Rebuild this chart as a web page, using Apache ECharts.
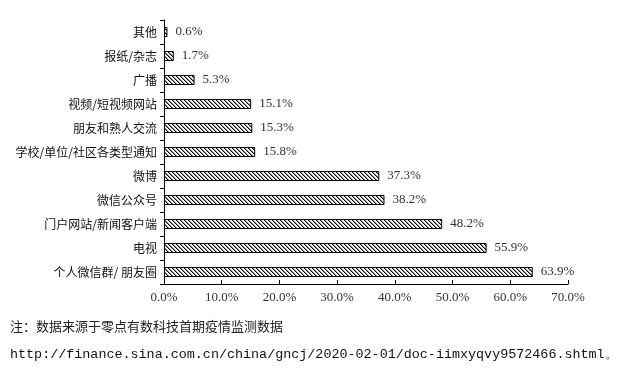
<!DOCTYPE html>
<html><head><meta charset="utf-8">
<script src="https://cdn.jsdelivr.net/npm/echarts@6/dist/echarts.min.js"></script>
<style>html,body{margin:0;padding:0;background:#fff;}#c{width:622px;height:371px;}</style>
</head><body><div id="c"></div>
<script>
var categories = ['其他','报纸/杂志','广播','视频/短视频网站','朋友和熟人交流','学校/单位/社区各类型通知','微博','微信公众号','门户网站/新闻客户端','电视','个人微信群/ 朋友圈'];
var values = [0.6, 1.7, 5.3, 15.1, 15.3, 15.8, 37.3, 38.2, 48.2, 55.9, 63.9];
var note = '注：数据来源于零点有数科技首期疫情监测数据';
var url = 'http://finance.sina.com.cn/china/gncj/2020-02-01/doc-iimxyqvy9572466.shtml。';

var tile = document.createElement('canvas');
tile.width = 4; tile.height = 4;
var tc = tile.getContext('2d');
tc.fillStyle = '#fff'; tc.fillRect(0,0,4,4);
for (var i = 0; i < 4; i++) {
  tc.fillStyle = '#000'; tc.fillRect(i, i, 1, 1);
  tc.fillStyle = '#888'; tc.fillRect((i + 1) % 4, i, 1, 1);
}

var chart = echarts.init(document.getElementById('c'));
chart.setOption({
  animation: false,
  grid: {left: 164, right: 54, top: 20, bottom: 87},
  xAxis: {
    type: 'value', min: 0, max: 70, interval: 10,
    axisLine: {show: true, lineStyle: {color: '#000', width: 1}},
    axisTick: {show: true, inside: true, length: 4, lineStyle: {color: '#000'}},
    splitLine: {show: false},
    axisLabel: {formatter: function(v){return v.toFixed(1)+'%';}, color: '#333', fontFamily: 'Liberation Serif', fontSize: 13, margin: 7}
  },
  yAxis: {
    type: 'category', data: categories, inverse: true,
    axisLine: {show: true, lineStyle: {color: '#000', width: 1}},
    axisTick: {show: true, length: 4, lineStyle: {color: '#000'}},
    axisLabel: {color: '#111', fontFamily: 'Noto Sans CJK SC', fontSize: 12, margin: 7}
  },
  series: [{
    type: 'bar', data: values, barWidth: 10,
    itemStyle: {color: {image: tile, repeat: 'repeat'}, borderColor: '#000', borderWidth: 1},
    label: {show: true, position: 'right', distance: 8, formatter: function(p){return p.value.toFixed(1)+'%';}, color: '#333', fontFamily: 'Liberation Serif', fontSize: 13}
  }],
  graphic: [
    {type: 'text', left: 10, top: 320, style: {text: note, font: '13px "Noto Sans CJK SC"', fill: '#222'}},
    {type: 'text', left: 10, top: 348, style: {text: url, font: '13.4px "Liberation Mono"', fill: '#111'}}
  ]
});
</script></body></html>
